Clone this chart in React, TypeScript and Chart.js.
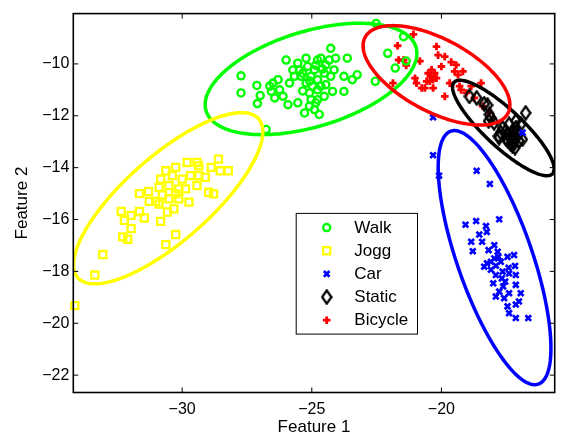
import React, { useEffect, useRef } from 'react';
import { Chart, registerables } from 'chart.js';
import { drawPoint } from 'chart.js/helpers';

Chart.register(...registerables);

// ---- axes ----
const xRange = [-34.2, -15.63];
const yRange = [-22.67, -8.06];
const xTicks = [-30, -25, -20];
const yTicks = [-22, -20, -18, -16, -14, -12, -10];
const xTitle = 'Feature 1';
const yTitle = 'Feature 2';

// ---- series ----
const seriesNames = ['Walk', 'Jogg', 'Car', 'Static', 'Bicycle'];
const seriesColors = ['#00ff00', '#ffff00', '#0000ff', '#000000', '#ff0000'];

const walk: [number, number][] = [
  [-27.73, -10.46], [-27.73, -11.12], [-27.12, -10.83], [-26.99, -11.22], [-27.10, -11.53],
  [-26.62, -10.86], [-26.50, -10.74], [-26.30, -10.61], [-26.43, -11.31], [-25.99, -9.85],
  [-25.86, -10.74], [-25.54, -9.97], [-25.48, -10.23], [-25.22, -9.78], [-25.16, -10.10],
  [-25.03, -10.48], [-24.90, -10.23], [-24.78, -9.85], [-24.65, -9.78], [-24.46, -10.04],
  [-24.33, -9.85], [-24.27, -9.40], [-24.08, -9.78], [-23.63, -9.78], [-24.14, -10.23],
  [-24.27, -10.48], [-23.76, -10.48], [-23.44, -10.61], [-23.25, -10.42], [-23.76, -11.06],
  [-24.20, -11.06], [-24.52, -11.25], [-24.78, -11.38], [-24.90, -11.76], [-24.71, -11.95],
  [-25.28, -11.89], [-25.54, -11.50], [-25.92, -11.57], [-25.09, -11.12], [-24.97, -10.86],
  [-25.22, -10.74], [-25.67, -10.48], [-25.73, -10.23], [-25.41, -10.48], [-24.78, -10.61],
  [-24.65, -10.86], [-24.46, -10.80], [-24.52, -10.36], [-24.78, -11.00], [-25.03, -11.38],
  [-25.09, -11.63], [-26.24, -11.00], [-26.11, -11.25], [-26.56, -11.06], [-22.55, -10.67],
  [-26.76, -12.53], [-22.52, -8.44], [-21.46, -8.95], [-22.07, -9.59], [-21.78, -10.16],
  [-21.36, -9.89], [-25.35, -10.36], [-24.85, -10.05], [-25.08, -10.66], [-24.59, -10.20],
  [-25.35, -11.04], [-24.85, -11.50],
];

const jogg: [number, number][] = [
  [-31.65, -15.00], [-31.30, -14.92], [-31.27, -15.30], [-31.02, -15.30], [-30.76, -15.05],
  [-30.89, -15.40], [-30.57, -15.71], [-30.32, -15.59], [-30.25, -15.01], [-30.13, -14.82],
  [-29.87, -14.82], [-29.74, -15.33], [-29.43, -14.69], [-29.36, -14.31], [-29.11, -14.37],
  [-28.98, -14.95], [-28.79, -15.01], [-28.88, -13.99], [-28.60, -13.67], [-28.53, -14.12],
  [-28.22, -14.12], [-29.81, -13.80], [-29.43, -13.80], [-30.25, -13.99], [-30.63, -14.12],
  [-30.38, -14.31], [-30.83, -14.44], [-32.35, -15.69], [-32.23, -16.03], [-31.97, -15.84],
  [-31.65, -15.69], [-31.46, -15.94], [-30.83, -16.07], [-31.97, -16.35], [-32.29, -16.67],
  [-32.10, -16.76], [-30.63, -16.97], [-30.25, -16.58], [-33.06, -17.35], [-33.37, -18.14],
  [-34.14, -19.32], [-30.51, -14.69], [-30.00, -14.44], [-29.68, -14.31], [-30.89, -14.76],
  [-30.13, -15.20], [-30.51, -15.20], [-29.36, -13.93],
];

const car: [number, number][] = [
  [-20.32, -13.52], [-20.09, -14.31], [-18.64, -14.12], [-18.13, -14.63], [-19.07, -16.20],
  [-18.66, -16.06], [-17.77, -15.99], [-18.28, -16.25], [-18.25, -16.48], [-18.54, -16.58],
  [-18.85, -16.86], [-18.79, -17.22], [-18.43, -16.86], [-18.18, -17.18], [-17.96, -16.99],
  [-17.83, -17.24], [-17.45, -17.44], [-17.20, -17.37], [-17.16, -17.79], [-17.41, -17.86],
  [-17.71, -17.63], [-17.90, -17.78], [-18.35, -17.82], [-18.09, -17.94], [-17.90, -18.14],
  [-17.67, -18.27], [-17.39, -18.08], [-17.13, -18.14], [-18.00, -18.46], [-17.62, -18.58],
  [-17.77, -18.78], [-17.39, -18.84], [-17.13, -18.52], [-17.90, -18.97], [-17.58, -19.03],
  [-16.94, -18.84], [-17.01, -19.16], [-17.13, -19.28], [-17.45, -19.35], [-17.39, -19.61],
  [-17.13, -19.80], [-16.65, -19.80], [-17.64, -18.01], [-17.96, -17.50], [-18.09, -17.63],
  [-17.80, -17.44], [-18.24, -17.69], [-17.54, -18.39], [-20.32, -12.06], [-16.87, -12.65],
];

const stat: [number, number][] = [
  [-18.92, -11.25], [-18.64, -11.31], [-18.35, -11.54], [-18.22, -11.59], [-18.15, -11.95],
  [-18.18, -12.20], [-16.75, -11.89], [-16.94, -12.33], [-17.13, -12.20], [-17.39, -12.33],
  [-17.64, -12.46], [-17.80, -12.78], [-17.45, -12.72], [-17.26, -12.84], [-17.01, -12.97],
  [-16.88, -12.91], [-17.16, -13.23], [-17.32, -13.10], [-17.52, -12.59], [-17.26, -12.59],
  [-17.13, -12.46], [-17.44, -12.96], [-17.21, -12.73], [-17.71, -12.65], [-17.97, -12.27],
  [-18.09, -12.08], [-17.35, -12.85], [-17.20, -13.00], [-17.05, -12.75], [-17.50, -12.90],
  [-17.77, -12.84], [-17.26, -13.16],
];

const bicycle: [number, number][] = [
  [-21.08, -8.86], [-21.69, -9.30], [-21.65, -9.85], [-21.36, -10.06], [-20.83, -9.89],
  [-20.19, -9.33], [-20.13, -9.66], [-19.87, -9.72], [-19.62, -9.93], [-20.00, -10.10],
  [-19.43, -10.04], [-19.49, -10.29], [-19.36, -10.42], [-19.68, -10.74], [-19.87, -11.25],
  [-20.26, -10.36], [-20.42, -10.48], [-20.51, -10.36], [-20.38, -10.23], [-20.57, -10.67],
  [-20.64, -10.93], [-20.32, -10.93], [-20.96, -10.74], [-21.02, -10.55], [-19.17, -10.29],
  [-19.30, -10.86], [-18.85, -10.86], [-18.47, -10.74], [-19.04, -11.12], [-18.73, -11.31],
  [-18.41, -11.63], [-18.15, -11.89], [-21.87, -10.74], [-20.76, -10.93], [-20.19, -10.55],
  [-20.45, -10.67], [-20.32, -10.61], [-19.24, -11.00], [-21.46, -9.85],
];

const seriesPoints = [walk, jogg, car, stat, bicycle];

// ---- fitted ellipses (data units), same order as series ----
const ellipseCenterX = [-25.03, -30.54, -17.95, -17.61, -20.19];
const ellipseCenterY = [-10.58, -15.18, -17.47, -12.47, -10.44];
const ellipseSemiMajor = [4.23, 4.64, 5.16, 2.59, 3.12];
const ellipseSemiMinor = [1.84, 1.64, 1.45, 0.72, 1.40];
const ellipseAngleDeg = [16.9, 41.3, -70.9, -42.9, -28.0];

const FONT = '"Liberation Sans", Arial, Helvetica, sans-serif';

const fmt = (v: number | string) => {
  const n = Number(v);
  return n < 0 ? '\u2212' + Math.abs(n) : String(n);
};

function makeDiamond(): HTMLCanvasElement {
  const c = document.createElement('canvas');
  c.width = 12;
  c.height = 16;
  const g = c.getContext('2d')!;
  g.strokeStyle = '#000';
  g.lineWidth = 2.3;
  g.beginPath();
  g.moveTo(6, 1.4);
  g.lineTo(10.6, 8);
  g.lineTo(6, 14.6);
  g.lineTo(1.4, 8);
  g.closePath();
  g.stroke();
  return c;
}

const ellipsePlugin = {
  id: 'ellipses',
  afterDatasetsDraw(chart: any) {
    const { ctx, chartArea, scales } = chart;
    const xs = scales.x, ys = scales.y;
    ctx.save();
    ctx.beginPath();
    ctx.rect(chartArea.left, chartArea.top, chartArea.right - chartArea.left, chartArea.bottom - chartArea.top);
    ctx.clip();
    ctx.lineWidth = 3.5;
    ctx.lineJoin = 'round';
    for (let i = 0; i < ellipseCenterX.length; i++) {
      const th = (ellipseAngleDeg[i] * Math.PI) / 180;
      ctx.beginPath();
      const N = 240;
      for (let k = 0; k <= N; k++) {
        const t = (k / N) * Math.PI * 2;
        const ex = ellipseSemiMajor[i] * Math.cos(t);
        const ey = ellipseSemiMinor[i] * Math.sin(t);
        const dx = ellipseCenterX[i] + ex * Math.cos(th) - ey * Math.sin(th);
        const dy = ellipseCenterY[i] + ex * Math.sin(th) + ey * Math.cos(th);
        const px = xs.getPixelForValue(dx);
        const py = ys.getPixelForValue(dy);
        if (k === 0) ctx.moveTo(px, py);
        else ctx.lineTo(px, py);
      }
      ctx.closePath();
      ctx.strokeStyle = seriesColors[i];
      ctx.stroke();
    }
    ctx.restore();
  },
};

const framePlugin = {
  id: 'frame',
  afterDraw(chart: any) {
    const { ctx, chartArea, scales } = chart;
    const { left, right, top, bottom } = chartArea;
    ctx.save();
    ctx.strokeStyle = '#000';
    ctx.lineWidth = 1.6;
    ctx.strokeRect(left, top, right - left, bottom - top);
    ctx.lineWidth = 1;
    const tl = 5;
    ctx.beginPath();
    xTicks.forEach((v) => {
      const px = scales.x.getPixelForValue(v);
      ctx.moveTo(px, bottom);
      ctx.lineTo(px, bottom - tl);
      ctx.moveTo(px, top);
      ctx.lineTo(px, top + tl);
    });
    yTicks.forEach((v) => {
      const py = scales.y.getPixelForValue(v);
      ctx.moveTo(left, py);
      ctx.lineTo(left + tl, py);
      ctx.moveTo(right, py);
      ctx.lineTo(right - tl, py);
    });
    ctx.stroke();
    ctx.restore();
  },
};

const legendPlugin = {
  id: 'boxLegend',
  afterDraw(chart: any) {
    const { ctx, chartArea } = chart;
    const bx = chartArea.left + 222.4;
    const by = chartArea.top + 199.3;
    const bw = 121.3;
    const bh = 120.7;
    ctx.save();
    ctx.fillStyle = '#fff';
    ctx.fillRect(bx, by, bw, bh);
    ctx.strokeStyle = '#000';
    ctx.lineWidth = 1;
    ctx.strokeRect(bx + 0.5, by + 0.5, bw, bh);
    chart.data.datasets.forEach((ds: any, i: number) => {
      const ry = by + 14.7 + i * 23.15;
      const mx = bx + 31;
      ctx.strokeStyle = ds.pointBorderColor;
      ctx.fillStyle = 'rgba(0,0,0,0)';
      ctx.lineWidth = ds.pointBorderWidth;
      drawPoint(ctx, { pointStyle: ds.pointStyle, radius: ds.pointRadius, rotation: 0, borderWidth: ds.pointBorderWidth }, mx, ry);
      ctx.fillStyle = '#000';
      ctx.font = '17px ' + FONT;
      ctx.textAlign = 'left';
      ctx.textBaseline = 'middle';
      ctx.fillText(ds.label, bx + 58.6, ry + 0.5);
    });
    ctx.restore();
  },
};

export default function App() {
  const ref = useRef<HTMLCanvasElement | null>(null);

  useEffect(() => {
    document.body.style.margin = '0';
    const diamond = makeDiamond();
    const styles: any[] = ['circle', 'rect', 'crossRot', diamond, 'cross'];
    const radii = [3.6, 5, 4, 6, 3.8];
    const widths = [2.3, 2.3, 2.7, 2.3, 2.8];

    const datasets = seriesNames.map((name, i) => ({
      label: name,
      data: seriesPoints[i].map(([x, y]) => ({ x, y })),
      pointStyle: styles[i],
      pointRadius: radii[i],
      pointHoverRadius: radii[i],
      pointBorderColor: seriesColors[i],
      pointBackgroundColor: 'rgba(0,0,0,0)',
      pointBorderWidth: widths[i],
      borderColor: seriesColors[i],
      backgroundColor: 'rgba(0,0,0,0)',
      showLine: false,
      clip: false as any,
    }));

    const chart = new Chart(ref.current!, {
      type: 'scatter',
      data: { datasets },
      options: {
        animation: false,
        responsive: false,
        devicePixelRatio: 1,
        events: [],
        layout: { padding: { top: 10, right: 3.7, left: 0, bottom: 0 } },
        plugins: { legend: { display: false }, tooltip: { enabled: false } },
        scales: {
          x: {
            type: 'linear',
            min: xRange[0],
            max: xRange[1],
            grid: { display: false, drawTicks: false },
            border: { display: false },
            afterBuildTicks: (s: any) => {
              s.ticks = xTicks.map((v) => ({ value: v }));
            },
            afterFit: (s: any) => {
              s.height = 45.5;
            },
            ticks: { color: '#000', font: { size: 16, family: FONT }, padding: 7.5, maxRotation: 0, autoSkip: false, callback: fmt },
            title: { display: true, text: xTitle, color: '#000', font: { size: 17, family: FONT }, padding: { top: 0, bottom: 0 } },
          },
          y: {
            type: 'linear',
            min: yRange[0],
            max: yRange[1],
            grid: { display: false, drawTicks: false },
            border: { display: false },
            afterBuildTicks: (s: any) => {
              s.ticks = yTicks.map((v) => ({ value: v }));
            },
            afterFit: (s: any) => {
              s.width = 73.3;
            },
            ticks: { color: '#000', font: { size: 16, family: FONT }, padding: 4, autoSkip: false, callback: fmt },
            title: { display: true, text: yTitle, color: '#000', font: { size: 17, family: FONT }, padding: { top: 11.8, bottom: 0 } },
          },
        },
      },
      plugins: [ellipsePlugin, framePlugin, legendPlugin],
    });
    return () => chart.destroy();
  }, []);

  return (
    <canvas
      ref={ref}
      width={563}
      height={438}
      style={{ position: 'fixed', left: 0, top: 0, display: 'block', width: 563, height: 438, background: '#fff' }}
    />
  );
}
